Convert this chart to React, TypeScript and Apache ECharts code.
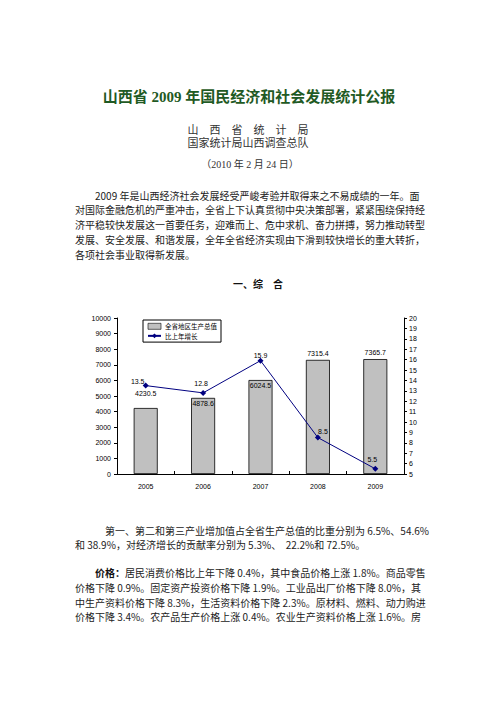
import React, { useEffect, useRef } from "react";
import * as echarts from "echarts";

// ---- chart data ----
const years = ["2005", "2006", "2007", "2008", "2009"];
const gdp = [4230.5, 4878.6, 6024.5, 7315.4, 7365.7];
const growth = [13.5, 12.8, 15.9, 8.5, 5.5];
const seriesNames = ["全省地区生产总值", "比上年增长"];
const leftAxis = { min: 0, max: 10000, interval: 1000 };
const rightAxis = { min: 5, max: 20, interval: 1 };

// ---- document texts ----
const titleText = "山西省 2009 年国民经济和社会发展统计公报";
const org1 = "山    西    省    统    计    局";
const org2 = "国家统计局山西调查总队";
const dateText = "（2010 年 2 月 24 日）";
const para1 = [
  "2009 年是山西经济社会发展经受严峻考验并取得来之不易成绩的一年。面",
  "对国际金融危机的严重冲击，全省上下认真贯彻中央决策部署，紧紧围绕保持经",
  "济平稳较快发展这一首要任务，迎难而上、危中求机、奋力拼搏，努力推动转型",
  "发展、安全发展、和谐发展，全年全省经济实现由下滑到较快增长的重大转折，",
  "各项社会事业取得新发展。",
];
const sectionText = "一、综　合";
const para2 = [
  "第一、第二和第三产业增加值占全省生产总值的比重分别为 6.5%、54.6%",
  "和 38.9%，对经济增长的贡献率分别为 5.3%、  22.2%和 72.5%。",
];
const para3 = [
  "{b|价格：}居民消费价格比上年下降 0.4%，其中食品价格上涨 1.8%。商品零售",
  "价格下降 0.9%。固定资产投资价格下降 1.9%。工业品出厂价格下降 8.0%，其",
  "中生产资料价格下降 8.3%，生活资料价格下降 2.3%。原材料、燃料、动力购进",
  "价格下降 3.4%。农产品生产价格上涨 0.4%。农业生产资料价格上涨 1.6%。房",
];

const CJK = "'Noto Sans CJK SC', sans-serif";
const SERIF = "'Liberation Serif', 'Noto Sans CJK SC', serif";
const BODY_COLOR = "#222";

function txt(text: string, x: number, y: number, o: any = {}) {
  const align = o.align || "left";
  return {
    type: "text",
    x,
    y,
    silent: true,
    style: {
      text,
      fill: o.fill || BODY_COLOR,
      fontSize: o.fontSize || 10,
      fontFamily: o.fontFamily || CJK,
      fontWeight: o.fontWeight || "normal",
      textAlign: align,
      align,
      textVerticalAlign: "middle",
      verticalAlign: "middle",
      rich: o.rich,
    },
  };
}

export default function App() {
  const ref = useRef<HTMLDivElement>(null);
  useEffect(() => {
    if (!ref.current) return;
    const chart = echarts.init(ref.current, undefined, { renderer: "svg" });

    const barLabelPos = [
      { position: "top", distance: 11 },
      { position: "insideTop", distance: 2 },
      { position: "insideTop", distance: 2 },
      { position: "top", distance: 3 },
      { position: "top", distance: 3 },
    ];
    const lineLabelPos = [
      { distance: 0, offset: [-8, 2] },
      { distance: 3, offset: [-2, 0] },
      { distance: 0, offset: [0, 1] },
      { distance: 0, offset: [5, 0] },
      { distance: 3, offset: [-3, 0] },
    ];

    const graphics: any[] = [];
    graphics.push(
      txt(titleText, 249, 97, {
        align: "center",
        fontSize: 15,
        fontWeight: "bold",
        fontFamily: SERIF,
        fill: "#1f5a24",
      })
    );
    graphics.push(txt(org1, 248, 129.5, { align: "center", fontSize: 11, fontFamily: SERIF, fill: "#333" }));
    graphics.push(txt(org2, 248, 143, { align: "center", fontSize: 11, fontFamily: SERIF, fill: "#333" }));
    graphics.push(txt(dateText, 250, 164, { align: "center", fontSize: 10, fontFamily: SERIF, fill: "#333" }));
    const p1y = [195, 209.5, 224.3, 239.3, 254];
    para1.forEach((s, i) => graphics.push(txt(s, i === 0 ? 95 : 75, p1y[i])));
    graphics.push(txt(sectionText, 233, 283.5, { fontWeight: "bold", fill: "#111" }));
    const p2y = [530, 544.5];
    para2.forEach((s, i) => graphics.push(txt(s, i === 0 ? 105 : 75, p2y[i])));
    const p3y = [572.3, 587.5, 602.3, 616.7];
    para3.forEach((s, i) =>
      graphics.push(
        txt(s, i === 0 ? 95 : 75, p3y[i], {
          rich: { b: { fontWeight: "bold", fontSize: 10, fontFamily: CJK, fill: "#111" } },
        })
      )
    );

    const axisFont = { fontSize: 7, fontFamily: "'Liberation Sans', Arial, sans-serif", color: "#000" };
    const plain = (v: number) => String(v);

    chart.setOption({
      animation: false,
      backgroundColor: "#fff",
      graphic: graphics,
      grid: { left: 117, right: 92, top: 318, bottom: 228, containLabel: false },
      legend: {
        left: 143,
        top: 320,
        orient: "vertical",
        backgroundColor: "#fff",
        borderColor: "#000",
        borderWidth: 1,
        borderRadius: 0,
        padding: [3, 4, 3, 4],
        itemGap: 3,
        itemWidth: 13,
        itemHeight: 6,
        textStyle: { fontSize: 6.5, fontFamily: CJK, color: "#000", padding: [0, 0, 0, -1] },
        data: [
          { name: seriesNames[0], icon: "rect", itemStyle: { color: "#c0c0c0", borderColor: "#000", borderWidth: 0.6 } },
          { name: seriesNames[1] },
        ],
      },
      xAxis: {
        type: "category",
        data: years,
        axisLine: { show: true, lineStyle: { color: "#000", width: 1 } },
        axisTick: { show: true, inside: true, length: 3, alignWithLabel: false, lineStyle: { color: "#000" } },
        axisLabel: { ...axisFont, margin: 9 },
        splitLine: { show: false },
      },
      yAxis: [
        {
          type: "value",
          ...leftAxis,
          axisLine: { show: true, lineStyle: { color: "#000", width: 1 } },
          axisTick: { show: true, length: 3, lineStyle: { color: "#000" } },
          axisLabel: { ...axisFont, margin: 6, formatter: plain },
          splitLine: { show: false },
        },
        {
          type: "value",
          position: "right",
          ...rightAxis,
          axisLine: { show: true, lineStyle: { color: "#000", width: 1 } },
          axisTick: { show: true, length: 3, lineStyle: { color: "#000" } },
          axisLabel: { ...axisFont, margin: 5, formatter: plain },
          splitLine: { show: false },
        },
      ],
      series: [
        {
          type: "bar",
          name: seriesNames[0],
          barWidth: 24,
          itemStyle: { color: "#c0c0c0", borderColor: "#000", borderWidth: 0.8 },
          label: { show: true, ...axisFont },
          data: gdp.map((v, i) => ({ value: v, label: barLabelPos[i] })),
        },
        {
          type: "line",
          name: seriesNames[1],
          yAxisIndex: 1,
          symbol: "diamond",
          symbolSize: 6,
          lineStyle: { color: "#000080", width: 1 },
          itemStyle: { color: "#000080" },
          label: { show: true, position: "top", ...axisFont },
          data: growth.map((v, i) => ({ value: v, label: lineLabelPos[i] })),
          z: 5,
        },
      ],
    });
    return () => chart.dispose();
  }, []);

  return (
    <div
      ref={ref}
      style={{ position: "absolute", left: 0, top: 0, width: 496, height: 702, background: "#fff" }}
    />
  );
}
